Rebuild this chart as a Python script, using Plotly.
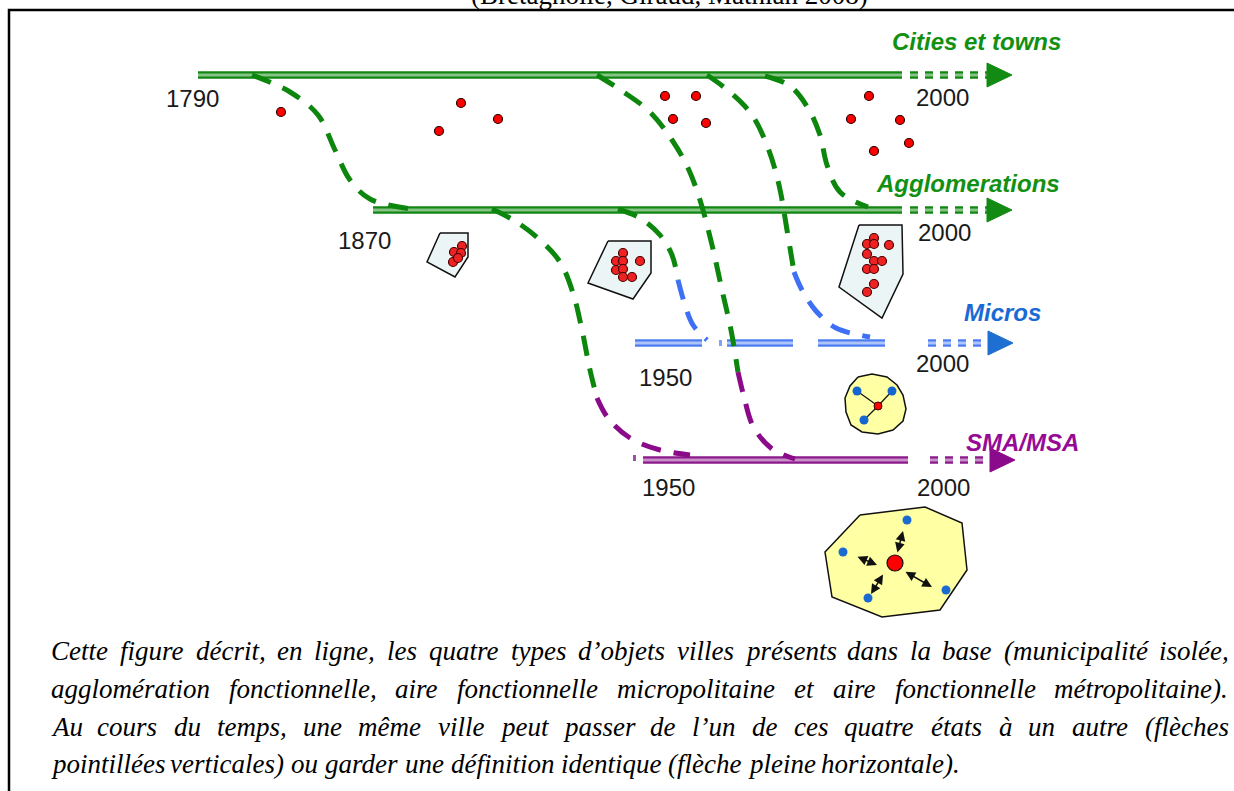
import plotly.graph_objects as go

W, H = 1234, 791

# ---------------- data (diagram geometry) ----------------
tl_labels = ["Cities et towns", "Agglomerations", "Micros", "SMA/MSA"]
tl_y = [75, 210, 343, 460]
tl_solid = [[(198, 902)], [(373, 902)], [(635, 702), (727, 793), (818, 885)], [(643, 908)]]
tl_dash_x0 = [910, 910, 928, 930]
tl_arrow_x0 = [987, 987, 988, 990]
tl_arrow_x1 = [1012, 1012, 1013, 1015]
tl_start_year = ["1790", "1870", "1950", "1950"]
tl_start_year_xy = [(192, 98), (364, 240), (665, 377), (668, 487)]
tl_end_year = ["2000", "2000", "2000", "2000"]
tl_end_year_xy = [(942, 97), (944, 232), (942, 363), (943, 487)]
tl_label_xy = [(976, 41), (968, 183), (1002, 312), (1022, 442)]

# transition curves (dashed), each a list of segments with a colour key
curve_A = [("g", [(252, 75), (290, 92), (318, 115), (335, 150), (350, 180), (370, 199), (412, 209)])]
curve_B = [("g", [(597, 75), (622, 91), (650, 112), (672, 140), (688, 168), (700, 200), (712, 245), (722, 290), (731, 330), (738, 372)]),
           ("p", [(738, 372), (744, 397), (753, 426), (771, 448), (795, 459)])]
curve_C = [("g", [(707, 75), (730, 92), (752, 115), (768, 148), (779, 185), (787, 230), (794, 272)]),
           ("b", [(794, 272), (802, 290), (816, 311), (836, 328), (870, 337)])]
curve_D = [("g", [(765, 76), (790, 86), (808, 108), (820, 135), (827, 165), (840, 192), (868, 207)])]
curve_E = [("g", [(492, 209), (515, 221), (540, 240), (560, 262), (573, 293), (582, 330), (590, 370), (597, 398)]),
           ("p", [(597, 398), (608, 418), (630, 438), (660, 450), (690, 455)])]
curve_F = [("g", [(618, 209), (640, 218), (660, 235), (672, 255), (678, 280)]),
           ("b", [(678, 280), (685, 305), (693, 325), (707, 340)])]
curves = [curve_A, curve_B, curve_C, curve_D, curve_E, curve_F]

# isolated municipalities (red points)
city_x = [281, 461, 439, 498, 665, 696, 673, 706, 869, 851, 900, 909, 874]
city_y = [112, 103, 131, 119, 96, 96, 119, 123, 96, 119, 120, 143, 151]

# agglomeration polygons and their points
agglo_polys = [
    [(440, 233), (468, 233), (468, 257), (455, 277), (427, 262)],
    [(608, 241), (651, 241), (651, 273), (633, 299), (588, 283)],
    [(859, 225), (902, 225), (903, 274), (882, 318), (839, 287)],
]
agglo_pts = [
    [(462, 246), (454, 252), (461, 253), (453, 262), (458, 258)],
    [(623, 253), (616, 261), (623, 261), (640, 261), (616, 270), (623, 269), (623, 277), (632, 277)],
    [(874, 238), (867, 244), (874, 244), (889, 245), (867, 254), (874, 261), (882, 261),
     (867, 269), (874, 269), (874, 284), (867, 292)],
]

# micropolitan area blob
micro_blob = [(858, 377), (872, 374), (887, 377), (897, 385), (903, 395), (906, 409), (903, 421),
              (893, 430), (878, 434), (862, 432), (851, 425), (846, 412), (845, 398), (850, 386)]
micro_center = (878, 406)
micro_sats = [(857, 391), (892, 391), (864, 420)]

# metropolitan area polygon
metro_poly = [(860, 515), (925, 507), (962, 523), (967, 570), (940, 610), (882, 617), (832, 597), (825, 552)]
metro_center = (895, 563)
metro_sats = [(907, 520), (843, 552), (868, 598), (946, 590)]
metro_arrows = [((897, 554), (903, 531)), ((856, 556), (877, 565)), ((884, 573), (871, 594)), ((904, 571), (932, 587))]

title_text = "(Bretagnolle, Giraud, Mathian 2008)"
caption_lines = [
    "Cette figure décrit, en ligne, les quatre types d’objets villes présents dans la base (municipalité isolée,",
    "agglomération fonctionnelle, aire fonctionnelle micropolitaine et aire fonctionnelle métropolitaine).",
    "Au cours du temps, une même ville peut passer de l’un de ces quatre états à un autre (flèches",
    "pointillées verticales) ou garder une définition identique (flèche pleine horizontale).",
]
caption_justify = [True, True, True, False]
caption_y = [651, 689, 727, 764]

# ---------------- styles ----------------
tl_dark = ["#128612", "#128612", "#4a7cf0", "#8a1a8a"]
tl_light = ["#86c486", "#86c486", "#aec4fa", "#c98fc9"]
tl_arrow = ["#138a13", "#138a13", "#1e6fd2", "#8b0a8b"]
tl_text = ["#129012", "#129012", "#1a6ad6", "#960a96"]
curve_col = {"g": "#0c860c", "p": "#8a0a8a", "b": "#3d70f5"}

fig = go.Figure()


def add_line(xs, ys, color, width, dash=None, shape="linear"):
    fig.add_trace(go.Scatter(x=xs, y=ys, mode="lines", hoverinfo="skip",
                             line=dict(color=color, width=width, dash=dash, shape=shape)))


# timelines
for i in range(4):
    y = tl_y[i]
    for (a, b) in tl_solid[i]:
        add_line([a, b], [y, y], tl_light[i], 8)
        add_line([a, b], [y - 2.5, y - 2.5], tl_dark[i], 1.8)
        add_line([a, b], [y + 2.5, y + 2.5], tl_dark[i], 1.8)
    xa, xb = tl_dash_x0[i], tl_arrow_x0[i]
    add_line([xa, xb], [y, y], tl_light[i], 8, dash="8px,7px")
    add_line([xa, xb], [y - 2.5, y - 2.5], tl_dark[i], 1.8, dash="8px,7px")
    add_line([xa, xb], [y + 2.5, y + 2.5], tl_dark[i], 1.8, dash="8px,7px")
    fig.add_trace(go.Scatter(x=[tl_arrow_x0[i], tl_arrow_x1[i], tl_arrow_x0[i], tl_arrow_x0[i]],
                             y=[y - 12, y, y + 12, y - 12], mode="lines", fill="toself",
                             fillcolor=tl_arrow[i], line=dict(color=tl_arrow[i], width=1), hoverinfo="skip"))
# small tick marks at micros gap and SMA start
add_line([719, 722], [343, 343], "#7fa0f5", 6)
add_line([633, 636], [458, 458], "#a050a0", 6)

# dashed transition curves
for c in curves:
    for key, pts in c:
        add_line([p[0] for p in pts], [p[1] for p in pts], curve_col[key], 5, dash="20px,13px", shape="spline")

# isolated cities
fig.add_trace(go.Scatter(x=city_x, y=city_y, mode="markers", hoverinfo="skip",
                         marker=dict(size=9, color="#ff0000", line=dict(color="#2a0000", width=1.2))))

# agglomeration polygons
for poly, pts in zip(agglo_polys, agglo_pts):
    xs = [p[0] for p in poly] + [poly[0][0]]
    ys = [p[1] for p in poly] + [poly[0][1]]
    fig.add_trace(go.Scatter(x=xs, y=ys, mode="lines", fill="toself", fillcolor="#ecf5f5",
                             line=dict(color="#111111", width=1.5), hoverinfo="skip"))
    fig.add_trace(go.Scatter(x=[p[0] for p in pts], y=[p[1] for p in pts], mode="markers", hoverinfo="skip",
                             marker=dict(size=9, color="#ee2222", line=dict(color="#4a0000", width=1.2))))

# micropolitan blob
xs = [p[0] for p in micro_blob] + [micro_blob[0][0]]
ys = [p[1] for p in micro_blob] + [micro_blob[0][1]]
fig.add_trace(go.Scatter(x=xs, y=ys, mode="lines", fill="toself", fillcolor="#ffffa3",
                         line=dict(color="#111111", width=1.5), hoverinfo="skip"))
for s in micro_sats:
    add_line([micro_center[0], s[0]], [micro_center[1], s[1]], "#111111", 1.2)
fig.add_trace(go.Scatter(x=[s[0] for s in micro_sats], y=[s[1] for s in micro_sats], mode="markers",
                         hoverinfo="skip", marker=dict(size=9, color="#1565d0")))
fig.add_trace(go.Scatter(x=[micro_center[0]], y=[micro_center[1]], mode="markers", hoverinfo="skip",
                         marker=dict(size=8, color="#ff0000", line=dict(color="#3a0000", width=1))))

# metropolitan polygon
xs = [p[0] for p in metro_poly] + [metro_poly[0][0]]
ys = [p[1] for p in metro_poly] + [metro_poly[0][1]]
fig.add_trace(go.Scatter(x=xs, y=ys, mode="lines", fill="toself", fillcolor="#ffffa3",
                         line=dict(color="#111111", width=1.5), hoverinfo="skip"))
fig.add_trace(go.Scatter(x=[s[0] for s in metro_sats], y=[s[1] for s in metro_sats], mode="markers",
                         hoverinfo="skip", marker=dict(size=9, color="#1a6ad0")))
fig.add_trace(go.Scatter(x=[metro_center[0]], y=[metro_center[1]], mode="markers", hoverinfo="skip",
                         marker=dict(size=16, color="#ff0000", line=dict(color="#111111", width=1.2))))

annotations = []
for (a, b) in metro_arrows:
    annotations.append(dict(x=b[0], y=b[1], ax=a[0], ay=a[1], xref="x", yref="y", axref="x", ayref="y",
                            text="", showarrow=True, arrowhead=2, startarrowhead=2, arrowside="end+start",
                            arrowsize=1.3, startarrowsize=1.3, arrowwidth=1.5, arrowcolor="#111111",
                            standoff=0, startstandoff=0))

# timeline labels and years
for i in range(4):
    annotations.append(dict(x=tl_label_xy[i][0], y=tl_label_xy[i][1], xref="x", yref="y", showarrow=False,
                            text="<b><i>%s</i></b>" % tl_labels[i],
                            font=dict(family="Liberation Sans, Arial", size=24, color=tl_text[i])))
    annotations.append(dict(x=tl_start_year_xy[i][0], y=tl_start_year_xy[i][1], xref="x", yref="y",
                            showarrow=False, text=tl_start_year[i],
                            font=dict(family="Liberation Sans, Arial", size=24, color="#1a1a1a")))
    annotations.append(dict(x=tl_end_year_xy[i][0], y=tl_end_year_xy[i][1], xref="x", yref="y",
                            showarrow=False, text=tl_end_year[i],
                            font=dict(family="Liberation Sans, Arial", size=24, color="#1a1a1a")))

# cut title at the very top (only its lower edge is visible, as in the reference)
annotations.append(dict(x=669, y=12, xref="x", yref="y", yanchor="bottom", showarrow=False,
                        text=title_text, font=dict(family="Liberation Serif, Times New Roman", size=27,
                                                   color="#000000")))

# caption, justified word by word (Times New Roman italic advance widths / 1000 em)
TNR_I = {
    "a": 500, "b": 500, "c": 444, "d": 500, "e": 444, "f": 278, "g": 500, "h": 500, "i": 278, "j": 278,
    "k": 444, "l": 278, "m": 722, "n": 500, "o": 500, "p": 500, "q": 500, "r": 389, "s": 389, "t": 278,
    "u": 500, "v": 444, "w": 667, "x": 444, "y": 444, "z": 389, "A": 611, "C": 667, "(": 333, ")": 333,
    ",": 250, ".": 250, "’": 333, " ": 250,
}
BASE = {"é": "e", "è": "e", "ê": "e", "à": "a"}
CAP_SIZE = 27
X_LEFT, X_RIGHT = 50, 1228


def wwidth(s):
    return sum(TNR_I.get(BASE.get(ch, ch), 500) for ch in s) * CAP_SIZE / 1000.0


for line, just, yy in zip(caption_lines, caption_justify, caption_y):
    words = line.split(" ")
    widths = [wwidth(w) for w in words]
    if just:
        gap = (X_RIGHT - X_LEFT - sum(widths)) / (len(words) - 1)
    else:
        gap = 250 * CAP_SIZE / 1000.0
    x = X_LEFT
    for w, wd in zip(words, widths):
        annotations.append(dict(x=x, y=yy, xref="x", yref="y", xanchor="left", yanchor="middle",
                                showarrow=False, text="<i>%s</i>" % w, borderpad=0,
                                font=dict(family="Liberation Serif, Times New Roman", size=CAP_SIZE,
                                          color="#000000")))
        x += wd + gap

shapes = [dict(type="rect", xref="x", yref="y", x0=9, x1=1245, y0=10, y1=800,
               line=dict(color="#000000", width=2.5), fillcolor="rgba(0,0,0,0)", layer="below")]

fig.update_layout(
    width=W, height=H, margin=dict(l=0, r=0, t=0, b=0),
    paper_bgcolor="white", plot_bgcolor="white", showlegend=False,
    xaxis=dict(range=[0, W], visible=False, fixedrange=True),
    yaxis=dict(range=[H, 0], visible=False, fixedrange=True),
    annotations=annotations, shapes=shapes,
)

fig.write_html("out.html", post_script="document.body.style.margin='0';", config={"displayModeBar": False})
